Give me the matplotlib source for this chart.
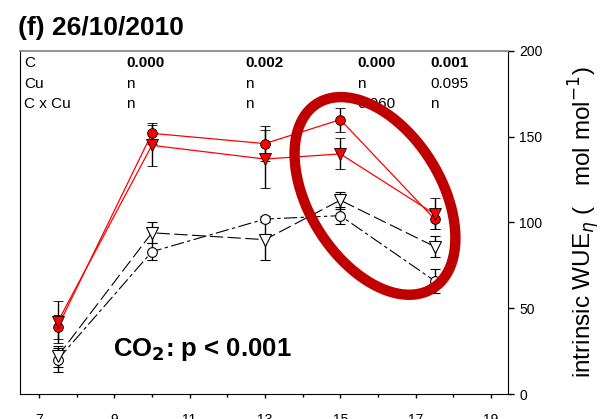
import numpy as np
import matplotlib
matplotlib.use("Agg")
import matplotlib.pyplot as plt
from matplotlib.ticker import MultipleLocator

plt.rcParams['font.family'] = ['Liberation Sans', 'DejaVu Sans']

# sampling times (x) and iWUE values
x = [7.5, 10, 13, 15, 17.5]

elev_circle = [39, 152, 146, 160, 102]
elev_circle_err = [7, 6, 10, 7, 6]
elev_tri = [42, 145, 137, 140, 105]
elev_tri_err = [12, 12, 17, 9, 9]

amb_tri = [22, 94, 90, 113, 86]
amb_tri_err = [6, 6, 12, 5, 6]
amb_circle = [20, 83, 102, 104, 66]
amb_circle_err = [7, 5, 2, 5, 7]

# p-value table at top of the panel
row_names = ["C", "Cu", "C x Cu"]
col_x = [9.31, 12.47, 15.44, 17.38]
p_C = ["0.000", "0.002", "0.000", "0.001"]
p_Cu = ["n", "n", "n", "0.095"]
p_CxCu = ["n", "n", "0.060", "n"]

fig = plt.figure(figsize=(6.15, 4.19), dpi=100)
ax = fig.add_axes([20/615, 25/419, 488/615, 343/419])

ekw = dict(ecolor='black', elinewidth=1, capsize=3.5, capthick=1)

ax.errorbar(x, amb_circle, yerr=amb_circle_err, color='black', lw=0.8,
            dashes=(12, 3, 3, 3), marker='o', ms=7, mfc='white', mec='black',
            mew=0.8, **ekw)
ax.errorbar(x, amb_tri, yerr=amb_tri_err, color='black', lw=0.8,
            dashes=(12, 4), marker='v', ms=8, mfc='white', mec='black',
            mew=0.8, **ekw)
ax.errorbar(x, elev_circle, yerr=elev_circle_err, color='red', lw=0.9,
            marker='o', ms=7, mfc='red', mec='black', mew=0.6, **ekw)
ax.errorbar(x, elev_tri, yerr=elev_tri_err, color='red', lw=0.9,
            marker='v', ms=8, mfc='red', mec='black', mew=0.6, **ekw)

ax.set_xlim(6.5, 19.45)
ax.set_ylim(0, 200)
ax.xaxis.set_minor_locator(MultipleLocator(1))
ax.set_xticks(np.arange(7, 20, 2))
ax.yaxis.tick_right()
ax.yaxis.set_label_position('right')
ax.set_yticks([0, 50, 100, 150, 200])
ax.tick_params(axis='y', which='major', direction='out', length=4.5,
               labelsize=10, width=1)
ax.tick_params(axis='x', which='major', direction='out', length=3,
               labelsize=10, width=1, pad=11)
ax.tick_params(axis='x', which='minor', direction='out', length=2.5, width=1)
ax.spines['top'].set_color('#7f7f7f')
ax.spines['top'].set_linewidth(1.2)

ax.set_ylabel("intrinsic WUE$_{\\eta}$ (   mol mol$^{-1}$)", fontsize=17.5,
              labelpad=17)

# p-value table
row_y = [193, 181, 169]
for name, yy in zip(row_names, row_y):
    ax.text(6.6, yy, name, fontsize=11, va='center', ha='left')
for cx, a, b, c in zip(col_x, p_C, p_Cu, p_CxCu):
    ax.text(cx, row_y[0], a, fontsize=11, va='center', ha='left',
            fontweight='bold')
    ax.text(cx, row_y[1], b, fontsize=11, va='center', ha='left')
    ax.text(cx, row_y[2], c, fontsize=11, va='center', ha='left')

ax.text(8.97, 26, "CO$_\\mathbf{2}$: p < 0.001", fontsize=18.5,
        fontweight='bold', va='center', ha='left')

fig.text(18/615, 1 - 28/419, "(f) 26/10/2010", fontsize=19, fontweight='bold',
         va='center', ha='left')

# highlight ellipse (drawn in pixel space, converted to data units)
px_x = 488 / (19.45 - 6.5)
px_y = 343 / 200
t = np.linspace(0, 2 * np.pi, 300)
ang = np.deg2rad(-58)
a, b = 109, 66
ex = a * np.cos(t) * np.cos(ang) - b * np.sin(t) * np.sin(ang)
ey = a * np.cos(t) * np.sin(ang) + b * np.sin(t) * np.cos(ang)
cx_d, cy_d = 15.92, 115.5
ax.plot(cx_d + ex / px_x, cy_d + ey / px_y, color='#c00000', lw=7.5,
        zorder=10, solid_capstyle='round')

fig.savefig("out.png", dpi=100)
